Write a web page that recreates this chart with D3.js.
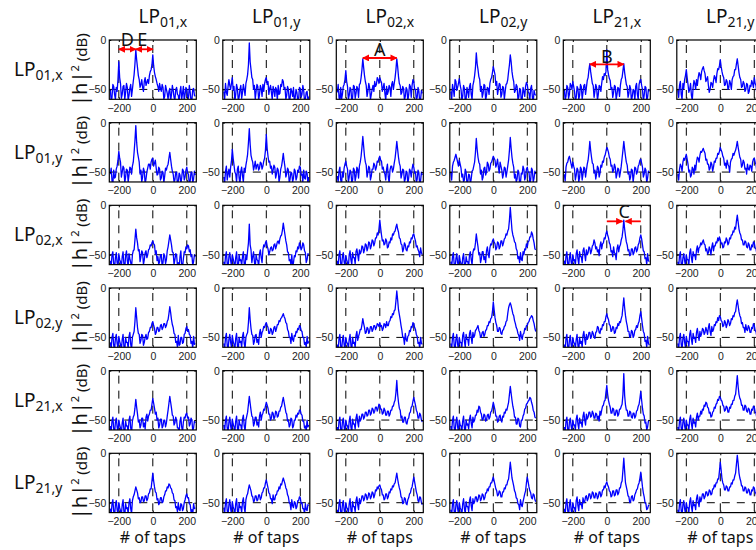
<!DOCTYPE html>
<html><head><meta charset="utf-8">
<script src="https://cdn.jsdelivr.net/npm/d3@7"></script>
<style>body{margin:0;background:#fff}svg{display:block}</style>
</head><body><svg id="chart" width="756" height="550"></svg>
<script>
// ---- data ----
const modes = ["01,x","01,y","02,x","02,y","21,x","21,y"];
const tapTicks = [-200, 0, 200];
const dbTicks = [0, -50];
const tapStart = -250, tapStep = 5;   // samples at -250,-245,...,250 (dB)

const p11=[-50,-62,-58,-45,-47,-55,-60,-48,-52,-40,-22,-38,-44,-59,-55,-47,-46,-60,-53,-44,-48,-61,-56,-49,-45,-57,-50,-42,-35,-24,-10,-20,-28,-36,-40,-48,-45,-40,-48,-52,-42,-38,-46,-43,-40,-44,-36,-32,-30,-25,-15,-26,-33,-37,-40,-44,-47,-52,-44,-49,-52,-45,-48,-60,-57,-46,-50,-54,-60,-52,-49,-62,-55,-46,-51,-58,-61,-50,-48,-55,-56,-63,-52,-47,-60,-54,-47,-61,-55,-48,-50,-58,-59,-46,-53,-62,-61,-50,-49,-56,-57];
const p12=[-52,-60,-44,-53,-56,-47,-40,-46,-50,-44,-38,-51,-47,-62,-55,-45,-49,-61,-58,-50,-46,-59,-53,-45,-50,-56,-44,-40,-35,-25,-3,-22,-30,-38,-40,-50,-46,-60,-52,-45,-47,-61,-55,-46,-49,-57,-45,-52,-44,-40,-38,-45,-42,-55,-49,-46,-53,-60,-47,-51,-57,-48,-50,-61,-46,-55,-54,-45,-47,-40,-42,-50,-48,-60,-56,-47,-50,-62,-59,-49,-52,-57,-48,-63,-58,-50,-53,-61,-60,-48,-49,-58,-55,-46,-51,-62,-60,-53,-52,-61,-57];
const p13=[-53,-45,-58,-62,-48,-60,-55,-47,-45,-40,-31,-42,-47,-60,-56,-48,-50,-62,-58,-46,-47,-59,-54,-47,-49,-58,-45,-44,-38,-30,-19,-28,-36,-42,-46,-57,-52,-44,-48,-60,-55,-50,-46,-52,-42,-47,-45,-38,-40,-44,-38,-41,-43,-52,-48,-44,-54,-61,-47,-55,-52,-46,-48,-57,-45,-42,-50,-44,-38,-30,-19,-27,-37,-44,-46,-55,-53,-47,-49,-61,-57,-48,-50,-62,-55,-45,-47,-58,-46,-40,-42,-50,-50,-61,-58,-48,-52,-63,-60,-51,-54];
const p14=[-52,-61,-45,-50,-57,-40,-42,-51,-48,-44,-39,-46,-50,-61,-57,-46,-49,-62,-60,-48,-52,-58,-47,-44,-55,-60,-46,-42,-36,-28,-13,-24,-30,-37,-40,-52,-47,-58,-54,-45,-46,-61,-56,-48,-49,-55,-44,-40,-38,-33,-27,-31,-35,-46,-42,-55,-50,-44,-45,-58,-55,-47,-48,-60,-52,-45,-44,-40,-32,-25,-15,-22,-32,-38,-42,-53,-51,-45,-47,-60,-58,-49,-50,-62,-60,-48,-52,-57,-47,-43,-45,-52,-54,-61,-49,-46,-58,-63,-51,-55,-56];
const p15=[-50,-61,-57,-46,-48,-59,-55,-44,-46,-50,-42,-47,-52,-62,-58,-47,-49,-60,-56,-45,-47,-60,-53,-46,-45,-55,-48,-41,-38,-30,-24,-32,-38,-44,-46,-58,-52,-45,-48,-61,-55,-46,-47,-52,-44,-37,-40,-34,-36,-32,-10,-30,-35,-39,-41,-50,-48,-58,-53,-46,-47,-60,-55,-48,-49,-57,-46,-40,-38,-31,-24,-33,-39,-45,-47,-58,-54,-46,-49,-62,-57,-50,-51,-61,-47,-44,-55,-60,-45,-41,-40,-46,-50,-62,-56,-47,-48,-61,-58,-50,-52];
const p16=[-51,-58,-46,-42,-55,-60,-44,-49,-40,-36,-30,-38,-45,-53,-50,-44,-56,-61,-48,-41,-44,-50,-40,-46,-38,-33,-35,-40,-32,-29,-27,-31,-34,-42,-40,-37,-46,-53,-50,-43,-44,-48,-41,-36,-38,-43,-34,-29,-30,-26,-20,-27,-32,-36,-38,-46,-45,-40,-42,-50,-48,-41,-44,-50,-40,-37,-36,-30,-30,-24,-19,-26,-33,-38,-40,-48,-47,-42,-44,-52,-50,-44,-45,-54,-52,-46,-47,-41,-44,-48,-38,-44,-46,-55,-51,-45,-48,-58,-55,-49,-50];
const p21=[-52,-46,-59,-62,-48,-56,-55,-47,-44,-38,-29,-36,-40,-55,-50,-44,-46,-61,-55,-47,-48,-60,-53,-45,-46,-52,-44,-40,-30,-18,-3,-20,-30,-35,-40,-52,-48,-60,-55,-46,-49,-62,-57,-50,-46,-42,-42,-47,-40,-37,-36,-44,-41,-38,-46,-53,-52,-45,-47,-58,-56,-49,-50,-61,-54,-46,-48,-44,-42,-36,-30,-37,-44,-49,-52,-60,-58,-50,-50,-63,-60,-51,-53,-62,-56,-47,-49,-58,-55,-48,-45,-51,-52,-63,-59,-50,-50,-61,-57,-49,-53];
const p22=[-55,-61,-49,-44,-58,-52,-47,-55,-45,-39,-27,-36,-43,-50,-52,-60,-47,-44,-56,-62,-49,-45,-54,-60,-46,-50,-43,-38,-32,-20,-6,-22,-33,-37,-40,-48,-44,-39,-47,-43,-42,-48,-46,-40,-41,-47,-44,-39,-36,-28,-12,-26,-34,-40,-39,-46,-44,-52,-48,-43,-45,-56,-52,-46,-48,-60,-55,-47,-44,-38,-31,-39,-45,-55,-52,-46,-48,-61,-57,-50,-51,-60,-56,-47,-49,-58,-55,-48,-50,-44,-45,-53,-52,-60,-48,-56,-57,-49,-51,-62,-55];
const p23=[-54,-60,-49,-45,-58,-62,-50,-55,-46,-42,-39,-44,-47,-60,-55,-48,-50,-61,-58,-46,-48,-59,-54,-45,-47,-56,-44,-40,-34,-25,-14,-24,-34,-40,-43,-55,-50,-44,-46,-58,-54,-47,-47,-41,-43,-48,-45,-39,-40,-36,-34,-38,-39,-47,-45,-50,-52,-58,-47,-42,-55,-61,-48,-44,-44,-50,-47,-41,-36,-28,-19,-27,-35,-41,-44,-56,-52,-47,-48,-60,-57,-49,-50,-62,-56,-47,-49,-55,-47,-42,-45,-51,-50,-61,-57,-48,-51,-63,-59,-50,-53];
const p24=[-50,-58,-44,-40,-38,-35,-32,-36,-40,-44,-38,-42,-46,-55,-52,-60,-58,-47,-50,-62,-60,-52,-53,-62,-57,-49,-48,-44,-40,-30,-16,-27,-35,-40,-42,-52,-48,-58,-55,-46,-45,-53,-50,-40,-42,-49,-47,-41,-40,-37,-34,-36,-38,-45,-42,-37,-45,-51,-40,-44,-48,-56,-52,-45,-46,-55,-50,-44,-38,-28,-15,-26,-35,-41,-45,-56,-52,-60,-57,-48,-50,-62,-60,-51,-52,-44,-47,-58,-55,-47,-45,-50,-50,-61,-58,-46,-48,-60,-56,-49,-52];
const p25=[-52,-59,-45,-41,-40,-36,-34,-38,-42,-46,-40,-44,-47,-58,-53,-46,-48,-60,-55,-45,-47,-58,-52,-45,-46,-55,-48,-42,-38,-30,-19,-28,-35,-41,-42,-51,-48,-57,-52,-44,-46,-55,-51,-43,-45,-39,-40,-35,-33,-29,-25,-27,-30,-35,-37,-44,-43,-50,-48,-42,-45,-56,-52,-46,-47,-55,-50,-44,-36,-28,-19,-27,-34,-40,-43,-52,-50,-58,-55,-47,-48,-60,-53,-45,-46,-52,-50,-44,-42,-38,-37,-41,-45,-55,-52,-46,-48,-61,-56,-49,-50];
const p26=[-52,-58,-47,-42,-44,-49,-40,-36,-38,-35,-32,-37,-42,-50,-48,-55,-53,-45,-47,-52,-43,-48,-40,-35,-36,-40,-33,-29,-30,-28,-26,-29,-31,-38,-37,-42,-42,-48,-46,-40,-42,-49,-45,-39,-40,-36,-36,-31,-32,-29,-25,-28,-30,-34,-36,-43,-41,-46,-38,-42,-44,-50,-40,-37,-36,-31,-33,-30,-28,-24,-19,-25,-30,-35,-37,-45,-43,-38,-40,-47,-46,-52,-42,-47,-48,-43,-44,-49,-40,-37,-36,-40,-42,-50,-47,-41,-44,-53,-50,-45,-46];
const p31=[-56,-62,-50,-47,-60,-64,-53,-48,-58,-62,-49,-55,-57,-63,-52,-47,-60,-64,-51,-46,-56,-62,-49,-54,-58,-63,-50,-46,-45,-35,-24,-33,-38,-46,-45,-57,-52,-46,-48,-60,-55,-48,-46,-53,-50,-45,-44,-40,-41,-38,-36,-39,-40,-49,-46,-56,-52,-60,-57,-50,-50,-62,-58,-49,-51,-59,-55,-46,-42,-36,-30,-35,-40,-47,-48,-60,-55,-49,-50,-61,-58,-64,-52,-46,-60,-63,-54,-47,-48,-42,-44,-40,-41,-47,-45,-52,-50,-61,-57,-50,-52];
const p32=[-57,-63,-51,-47,-59,-64,-52,-48,-56,-61,-50,-54,-58,-63,-53,-47,-60,-64,-50,-56,-55,-61,-52,-47,-59,-63,-50,-55,-46,-38,-19,-40,-45,-58,-52,-47,-57,-63,-50,-55,-56,-62,-49,-45,-53,-58,-45,-40,-42,-38,-36,-41,-44,-50,-47,-43,-42,-46,-45,-40,-39,-44,-41,-37,-36,-39,-34,-31,-30,-25,-18,-24,-30,-36,-40,-47,-48,-56,-55,-60,-50,-62,-58,-51,-52,-46,-47,-42,-44,-38,-40,-45,-43,-38,-40,-46,-48,-58,-55,-49,-50];
const p33=[-56,-62,-50,-46,-59,-63,-52,-48,-57,-62,-51,-55,-58,-63,-50,-46,-55,-60,-48,-53,-53,-59,-47,-44,-50,-56,-45,-49,-47,-41,-42,-48,-45,-39,-40,-46,-43,-37,-38,-44,-41,-35,-36,-41,-38,-33,-33,-28,-30,-24,-15,-23,-30,-36,-35,-40,-39,-34,-36,-43,-42,-37,-38,-33,-35,-29,-30,-27,-26,-22,-19,-24,-27,-33,-34,-39,-40,-47,-44,-38,-40,-45,-46,-41,-42,-37,-38,-33,-34,-30,-29,-33,-36,-42,-41,-45,-47,-52,-43,-48,-50];
const p34=[-57,-63,-52,-48,-60,-64,-54,-49,-58,-62,-51,-56,-59,-64,-53,-49,-60,-63,-52,-57,-57,-62,-50,-47,-55,-60,-48,-44,-45,-38,-29,-36,-42,-50,-48,-58,-54,-47,-47,-55,-52,-58,-46,-42,-49,-53,-43,-39,-40,-36,-34,-37,-39,-45,-43,-37,-38,-44,-42,-36,-36,-41,-38,-34,-33,-29,-30,-26,-24,-15,-2,-14,-25,-30,-33,-37,-38,-44,-46,-54,-52,-58,-48,-55,-56,-47,-50,-44,-45,-39,-42,-37,-36,-32,-32,-27,-29,-34,-38,-44,-45];
const p35=[-56,-62,-51,-47,-59,-63,-53,-48,-57,-62,-50,-56,-55,-61,-49,-45,-54,-60,-47,-52,-52,-58,-46,-43,-50,-56,-45,-50,-48,-42,-43,-49,-46,-41,-40,-35,-38,-44,-42,-47,-45,-51,-41,-37,-44,-39,-38,-33,-34,-29,-26,-30,-33,-38,-40,-47,-46,-52,-42,-48,-49,-55,-44,-40,-47,-42,-40,-35,-32,-25,-15,-24,-31,-37,-40,-46,-45,-51,-50,-44,-44,-50,-48,-43,-42,-47,-45,-40,-38,-33,-30,-34,-40,-46,-47,-54,-53,-60,-49,-56,-57];
const p36=[-57,-62,-51,-47,-59,-63,-53,-49,-56,-61,-50,-55,-55,-60,-48,-44,-53,-58,-47,-51,-50,-55,-45,-41,-48,-43,-42,-38,-40,-37,-35,-39,-40,-46,-44,-49,-48,-42,-45,-50,-42,-38,-46,-41,-41,-37,-38,-33,-36,-32,-35,-39,-38,-43,-42,-37,-38,-33,-35,-40,-38,-33,-34,-30,-30,-26,-27,-22,-24,-16,-10,-17,-24,-28,-30,-35,-35,-40,-40,-36,-37,-42,-43,-38,-40,-45,-45,-40,-42,-37,-38,-43,-44,-49,-48,-43,-45,-50,-52,-46,-48];
const p41=[-55,-62,-50,-46,-58,-63,-51,-47,-56,-61,-49,-54,-57,-63,-52,-47,-59,-64,-50,-55,-55,-61,-49,-45,-57,-62,-50,-47,-44,-34,-20,-30,-40,-46,-47,-56,-53,-47,-48,-58,-55,-50,-47,-52,-51,-45,-44,-40,-40,-36,-34,-38,-41,-47,-45,-40,-40,-44,-43,-38,-37,-42,-40,-36,-36,-40,-38,-34,-32,-26,-19,-25,-32,-37,-40,-46,-47,-55,-54,-60,-48,-58,-57,-50,-50,-56,-55,-47,-46,-41,-39,-44,-42,-47,-48,-56,-54,-61,-49,-57,-56];
const p42=[-56,-62,-50,-46,-58,-63,-52,-47,-55,-60,-48,-54,-57,-62,-51,-46,-58,-63,-50,-55,-54,-60,-49,-45,-56,-61,-50,-47,-45,-35,-20,-32,-41,-47,-48,-57,-54,-48,-47,-55,-52,-57,-46,-42,-50,-45,-43,-39,-40,-37,-35,-38,-40,-46,-46,-41,-42,-47,-45,-40,-39,-44,-41,-37,-37,-33,-34,-31,-30,-28,-26,-29,-31,-35,-36,-42,-44,-50,-50,-56,-46,-52,-54,-48,-49,-44,-45,-41,-42,-38,-39,-43,-44,-50,-50,-57,-55,-60,-49,-56,-54];
const p43=[-57,-63,-51,-47,-59,-64,-53,-48,-57,-62,-50,-55,-56,-61,-52,-47,-58,-63,-50,-56,-55,-60,-48,-44,-53,-49,-46,-42,-42,-37,-31,-36,-40,-46,-45,-40,-41,-46,-44,-39,-39,-44,-42,-38,-38,-42,-40,-36,-37,-39,-35,-39,-38,-43,-41,-36,-37,-40,-34,-38,-38,-34,-33,-29,-30,-26,-27,-23,-22,-13,-3,-12,-22,-27,-32,-38,-43,-50,-50,-57,-46,-52,-54,-49,-48,-43,-44,-39,-40,-35,-36,-40,-42,-47,-49,-56,-55,-61,-50,-56,-57];
const p44=[-56,-62,-50,-46,-58,-63,-52,-47,-57,-62,-50,-55,-55,-60,-48,-45,-54,-60,-47,-52,-52,-58,-46,-43,-50,-56,-45,-50,-48,-43,-42,-40,-38,-43,-45,-50,-49,-45,-44,-49,-47,-43,-42,-38,-38,-34,-35,-31,-30,-24,-14,-22,-30,-35,-38,-44,-44,-40,-41,-46,-47,-43,-42,-39,-38,-34,-33,-26,-20,-17,-15,-18,-22,-26,-28,-33,-36,-40,-42,-46,-48,-53,-44,-49,-52,-47,-46,-41,-42,-38,-38,-35,-34,-31,-30,-28,-29,-33,-36,-41,-44];
const p45=[-57,-63,-51,-47,-59,-64,-53,-48,-57,-62,-50,-55,-56,-61,-52,-47,-58,-63,-50,-56,-54,-60,-48,-44,-52,-57,-47,-52,-50,-45,-45,-51,-49,-44,-46,-50,-51,-45,-44,-39,-40,-45,-46,-41,-42,-37,-38,-34,-34,-29,-26,-30,-32,-37,-38,-44,-43,-39,-40,-46,-45,-40,-41,-36,-38,-34,-35,-31,-28,-19,-10,-20,-28,-34,-38,-44,-44,-50,-49,-43,-44,-50,-48,-43,-42,-38,-40,-36,-34,-28,-24,-31,-38,-44,-46,-54,-53,-60,-49,-56,-58];
const p46=[-56,-62,-50,-46,-57,-62,-51,-47,-55,-60,-49,-54,-54,-59,-47,-43,-52,-57,-46,-51,-50,-55,-45,-41,-48,-53,-44,-49,-46,-41,-42,-47,-45,-40,-43,-47,-40,-36,-44,-48,-39,-44,-42,-37,-38,-34,-35,-30,-33,-28,-29,-33,-34,-39,-38,-33,-35,-40,-37,-32,-34,-38,-36,-31,-32,-28,-29,-25,-24,-17,-12,-18,-24,-28,-30,-36,-35,-40,-40,-45,-37,-42,-43,-38,-40,-45,-45,-40,-41,-36,-38,-43,-44,-49,-48,-43,-45,-50,-51,-46,-47];
const p51=[-56,-62,-51,-47,-59,-64,-52,-48,-57,-62,-50,-55,-58,-63,-53,-48,-60,-64,-51,-56,-56,-62,-50,-46,-58,-63,-51,-47,-45,-38,-29,-37,-44,-52,-50,-58,-55,-48,-48,-57,-53,-59,-47,-44,-51,-46,-44,-40,-40,-34,-28,-33,-38,-44,-42,-50,-48,-58,-55,-49,-49,-58,-56,-50,-50,-57,-53,-46,-40,-33,-26,-32,-38,-45,-46,-55,-53,-47,-50,-58,-58,-63,-51,-47,-57,-62,-52,-47,-48,-44,-43,-48,-47,-56,-54,-48,-50,-61,-58,-51,-53];
const p52=[-55,-61,-50,-46,-58,-63,-52,-47,-56,-61,-49,-54,-57,-62,-51,-46,-58,-63,-50,-55,-55,-61,-49,-45,-56,-61,-50,-46,-42,-34,-26,-33,-40,-46,-47,-56,-53,-47,-47,-55,-52,-57,-46,-42,-50,-45,-43,-39,-40,-36,-32,-35,-38,-44,-44,-50,-48,-42,-43,-49,-47,-41,-42,-47,-46,-41,-41,-37,-36,-31,-27,-32,-37,-42,-44,-51,-50,-57,-55,-48,-49,-58,-56,-50,-50,-45,-47,-43,-44,-40,-40,-44,-45,-51,-51,-58,-56,-61,-50,-57,-55];
const p53=[-57,-63,-51,-47,-59,-64,-52,-48,-57,-62,-50,-55,-56,-61,-51,-46,-57,-62,-49,-54,-54,-59,-48,-44,-52,-57,-46,-51,-49,-44,-44,-49,-47,-42,-42,-46,-45,-40,-40,-45,-43,-38,-39,-43,-41,-37,-37,-41,-38,-34,-35,-39,-39,-44,-43,-38,-40,-45,-45,-41,-41,-46,-44,-40,-40,-36,-36,-32,-30,-22,-10,-24,-32,-38,-40,-48,-46,-52,-52,-47,-47,-53,-54,-49,-48,-43,-42,-37,-36,-31,-27,-31,-35,-40,-42,-48,-48,-43,-45,-50,-52];
const p54=[-56,-62,-50,-46,-58,-63,-52,-47,-57,-62,-50,-55,-56,-61,-51,-46,-58,-63,-50,-55,-54,-59,-49,-45,-53,-58,-47,-52,-50,-45,-45,-40,-42,-36,-37,-42,-44,-50,-49,-44,-45,-51,-50,-45,-44,-49,-47,-42,-41,-37,-32,-36,-40,-46,-46,-52,-51,-46,-45,-50,-52,-46,-47,-42,-43,-39,-40,-36,-32,-24,-16,-23,-30,-36,-40,-47,-47,-54,-54,-48,-49,-56,-57,-50,-50,-46,-44,-39,-38,-34,-33,-31,-30,-27,-28,-32,-35,-40,-42,-47,-48];
const p55=[-57,-63,-51,-47,-59,-64,-52,-48,-56,-61,-50,-55,-55,-60,-49,-45,-54,-59,-48,-53,-52,-57,-46,-42,-50,-55,-44,-49,-47,-42,-42,-47,-46,-41,-43,-48,-48,-43,-44,-49,-46,-51,-41,-45,-40,-36,-35,-31,-30,-22,-15,-24,-30,-34,-37,-43,-43,-38,-39,-45,-45,-40,-40,-46,-44,-39,-39,-36,-34,-24,-3,-25,-35,-40,-40,-46,-46,-41,-42,-47,-48,-43,-43,-48,-46,-41,-40,-36,-34,-28,-21,-30,-38,-44,-46,-53,-52,-60,-57,-51,-50];
const p56=[-57,-62,-51,-47,-58,-63,-52,-48,-56,-61,-50,-55,-55,-60,-49,-45,-54,-59,-48,-53,-52,-57,-47,-43,-50,-46,-46,-41,-44,-39,-40,-35,-36,-32,-33,-37,-38,-43,-42,-47,-46,-42,-41,-37,-38,-34,-33,-29,-30,-26,-27,-30,-31,-35,-36,-41,-40,-36,-37,-42,-42,-37,-38,-34,-34,-30,-30,-26,-24,-15,-5,-16,-24,-28,-30,-35,-35,-40,-40,-35,-36,-41,-42,-38,-39,-44,-44,-39,-40,-36,-37,-42,-43,-48,-47,-42,-44,-49,-50,-45,-46];
const p61=[-56,-62,-51,-47,-59,-64,-52,-48,-57,-62,-50,-55,-58,-63,-52,-47,-59,-64,-51,-56,-55,-61,-50,-46,-56,-61,-48,-44,-42,-38,-34,-37,-40,-46,-45,-50,-49,-44,-44,-49,-48,-43,-43,-48,-46,-41,-40,-36,-36,-28,-20,-28,-34,-39,-40,-47,-46,-52,-50,-45,-45,-50,-49,-44,-42,-38,-38,-34,-35,-31,-32,-35,-36,-40,-41,-47,-48,-55,-54,-59,-50,-57,-58,-51,-52,-58,-56,-50,-47,-43,-41,-45,-45,-51,-52,-59,-57,-62,-51,-56,-55];
const p62=[-55,-61,-50,-46,-58,-63,-52,-47,-56,-61,-49,-54,-57,-62,-51,-46,-58,-63,-50,-55,-54,-60,-49,-45,-55,-60,-47,-43,-41,-36,-32,-35,-38,-43,-44,-49,-48,-43,-43,-48,-47,-42,-42,-47,-45,-40,-39,-35,-35,-30,-27,-31,-35,-40,-41,-46,-46,-51,-42,-47,-47,-42,-42,-38,-38,-34,-36,-31,-32,-28,-25,-28,-31,-35,-37,-42,-44,-50,-51,-57,-47,-53,-55,-49,-50,-56,-54,-48,-48,-44,-45,-51,-50,-56,-56,-61,-51,-57,-58,-52,-53];
const p63=[-57,-63,-51,-47,-59,-64,-52,-48,-57,-62,-50,-55,-56,-61,-51,-46,-57,-62,-49,-54,-54,-59,-48,-44,-52,-57,-46,-51,-48,-43,-43,-48,-46,-41,-42,-47,-45,-40,-41,-46,-44,-39,-40,-45,-42,-37,-38,-34,-36,-33,-32,-35,-37,-42,-42,-47,-46,-41,-41,-46,-44,-39,-40,-36,-37,-33,-34,-31,-30,-25,-20,-26,-31,-35,-38,-44,-45,-51,-50,-45,-46,-51,-52,-47,-45,-41,-40,-36,-34,-29,-24,-29,-34,-39,-42,-48,-49,-44,-45,-50,-52];
const p64=[-57,-63,-51,-47,-59,-64,-52,-48,-56,-61,-50,-55,-57,-62,-51,-46,-56,-61,-49,-54,-54,-59,-48,-44,-53,-58,-46,-51,-49,-44,-44,-49,-47,-42,-43,-48,-46,-41,-42,-47,-45,-40,-40,-36,-38,-34,-34,-30,-30,-27,-24,-28,-32,-36,-38,-43,-42,-38,-39,-44,-44,-39,-39,-35,-36,-32,-32,-28,-26,-18,-9,-17,-25,-29,-33,-38,-40,-45,-46,-51,-52,-57,-47,-52,-54,-49,-45,-41,-38,-30,-24,-29,-34,-38,-40,-45,-46,-41,-42,-47,-49];
const p65=[-56,-62,-50,-46,-58,-63,-52,-47,-57,-62,-50,-55,-55,-60,-48,-44,-53,-58,-47,-52,-51,-56,-45,-50,-49,-44,-43,-48,-46,-41,-41,-46,-44,-39,-40,-45,-45,-40,-41,-46,-44,-39,-39,-44,-42,-37,-37,-33,-35,-31,-29,-32,-34,-38,-39,-44,-43,-38,-38,-43,-42,-37,-37,-42,-40,-35,-35,-30,-28,-17,-5,-18,-30,-34,-38,-43,-44,-50,-49,-44,-43,-48,-47,-42,-40,-37,-36,-32,-30,-25,-19,-26,-34,-40,-44,-50,-51,-57,-56,-53,-52];
const p66=[-57,-62,-51,-47,-58,-63,-52,-48,-56,-61,-50,-55,-55,-60,-49,-45,-54,-59,-48,-53,-52,-57,-46,-42,-49,-54,-44,-49,-46,-41,-41,-46,-44,-39,-39,-43,-42,-37,-38,-42,-41,-36,-36,-32,-34,-30,-30,-26,-26,-18,-9,-17,-26,-30,-32,-37,-37,-33,-34,-38,-38,-34,-34,-30,-31,-27,-27,-23,-20,-11,-2,-10,-20,-25,-28,-33,-33,-38,-38,-34,-35,-40,-40,-36,-37,-42,-42,-37,-38,-34,-35,-40,-40,-45,-45,-40,-42,-47,-48,-43,-44];

const panels = [
  [p11,p12,p13,p14,p15,p16],
  [p21,p22,p23,p24,p25,p26],
  [p31,p32,p33,p34,p35,p36],
  [p41,p42,p43,p44,p45,p46],
  [p51,p52,p53,p54,p55,p56],
  [p61,p62,p63,p64,p65,p66]
];

// annotation arrows
const arrowRows = [0,0,0,0,2,2];
const arrowCols = [0,0,2,4,4,4];
const arrowFrom = [-200,-100,-100,-100,0,200];
const arrowTo   = [-100,0,100,100,92,110];
const arrowDb   = [-9.4,-9.4,-18.2,-24.6,-16.2,-16.2];
const arrowBoth = [true,true,true,true,false,false];
// annotation letters
const letters   = ["D","E","A","B","C"];
const letterRow = [0,0,0,0,2];
const letterCol = [0,0,2,4,4];
const letterTap = [-150,-62,0,0,102];
const letterDb  = [-5,-5,-15,-22.5,-12];

// ---- layout ----
const svg = d3.select("#chart");
const PW = 87, PH = 59.3;
const colLeft = d3.scaleLinear().domain([0,1]).range([109.3, 222.8]);
const rowTop  = d3.scaleLinear().domain([0,1]).range([40, 122.66]);
const x = d3.scaleLinear().domain([-256, 256]).range([0, PW]);
const y = d3.scaleLinear().domain([-60, 0]).range([PH, 0]);
const line = d3.line().x((d,i)=>x(tapStart + i*tapStep)).y(d=>y(d));
const tickFont = "'Liberation Sans', Arial, sans-serif";
const labFont = "'Noto Sans', 'Open Sans', sans-serif";

const defs = svg.append("defs");
defs.append("marker").attr("id","ah").attr("viewBox","0 0 10 10")
  .attr("refX",9).attr("refY",5).attr("markerUnits","userSpaceOnUse")
  .attr("markerWidth",7).attr("markerHeight",7).attr("orient","auto-start-reverse")
  .append("path").attr("d","M0,0L10,5L0,10z").attr("fill","#ff0000");

panels.forEach((row, r) => {
  row.forEach((vals, c) => {
    const g = svg.append("g").attr("transform", `translate(${colLeft(c)},${rowTop(r)})`);
    defs.append("clipPath").attr("id", `cl${r}${c}`).append("rect").attr("width", PW).attr("height", PH);
    g.selectAll("line.vd").data(tapTicks).join("line").attr("class","vd")
      .attr("x1", d=>x(d)).attr("x2", d=>x(d)).attr("y1", y(0)).attr("y2", y(-60))
      .attr("stroke","#000").attr("stroke-width",1)
      .attr("stroke-dasharray","8,7").attr("stroke-dashoffset",10);
    g.append("line").attr("x1",0).attr("x2",PW).attr("y1",y(-50)).attr("y2",y(-50))
      .attr("stroke","#000").attr("stroke-width",1).attr("stroke-dasharray","8,7");
    g.append("path").datum(vals).attr("d", line).attr("clip-path", `url(#cl${r}${c})`)
      .attr("fill","none").attr("stroke","#0000ff").attr("stroke-width",1.3)
      .attr("stroke-linejoin","round");
    const ax = g.append("g").attr("transform", `translate(0,${PH})`)
      .call(d3.axisBottom(x).tickValues(tapTicks).tickSizeInner(-2).tickSizeOuter(0).tickPadding(5));
    const ay = g.append("g")
      .call(d3.axisLeft(y).tickValues(dbTicks).tickSizeInner(-2).tickSizeOuter(0).tickPadding(3));
    const axT = g.append("g").call(d3.axisTop(x).tickValues(tapTicks).tickSizeInner(-2).tickSizeOuter(0).tickFormat(""));
    const ayR = g.append("g").attr("transform", `translate(${PW},0)`)
      .call(d3.axisRight(y).tickValues(dbTicks).tickSizeInner(-2).tickSizeOuter(0).tickFormat(""));
    [ax, ay, axT, ayR].forEach(a => {
      a.select(".domain").remove();
      a.selectAll("text").attr("font-family", tickFont).attr("font-size", 10.5).attr("fill","#222");
      a.selectAll("line").attr("stroke","#000");
    });
    g.append("rect").attr("width", PW).attr("height", PH).attr("fill","none")
      .attr("stroke","#000").attr("stroke-width",1.2);
  });
});

// column titles
modes.forEach((m, c) => {
  const t = svg.append("text").attr("x", colLeft(c) + PW/2 + 10).attr("y", 22.5)
    .attr("text-anchor","middle").attr("font-family", labFont).attr("fill","#111");
  t.append("tspan").attr("font-size", 19).text("LP");
  t.append("tspan").attr("font-size", 14).attr("dy", 4).text(m);
});
// row labels + y labels
modes.forEach((m, r) => {
  const cy = rowTop(r) + PH/2;
  const t = svg.append("text").attr("x", 14).attr("y", cy + 6.5)
    .attr("font-family", labFont).attr("fill","#111");
  t.append("tspan").attr("font-size", 19).text("LP");
  t.append("tspan").attr("font-size", 14).attr("dy", 4).text(m);
  const yl = svg.append("text").attr("transform", `translate(87,${cy}) rotate(-90)`)
    .attr("text-anchor","middle").attr("font-family", labFont).attr("fill","#111");
  yl.append("tspan").attr("font-size", 20).text("|h|");
  yl.append("tspan").attr("font-size", 11).attr("dy", -8).text("2");
  yl.append("tspan").attr("font-size", 15).attr("dy", 8).text(" (dB)");
});
// x labels
modes.forEach((m, c) => {
  svg.append("text").attr("x", colLeft(c) + PW/2).attr("y", 543)
    .attr("text-anchor","middle").attr("font-family", labFont).attr("font-size", 16)
    .attr("fill","#111").text("# of taps");
});
// arrows
arrowRows.forEach((r, i) => {
  const c = arrowCols[i];
  svg.append("line")
    .attr("x1", colLeft(c) + x(arrowFrom[i])).attr("x2", colLeft(c) + x(arrowTo[i]))
    .attr("y1", rowTop(r) + y(arrowDb[i])).attr("y2", rowTop(r) + y(arrowDb[i]))
    .attr("stroke","#ff0000").attr("stroke-width",1.8)
    .attr("marker-end","url(#ah)")
    .attr("marker-start", arrowBoth[i] ? "url(#ah)" : null);
});
letters.forEach((L, i) => {
  svg.append("text").attr("x", colLeft(letterCol[i]) + x(letterTap[i]))
    .attr("y", rowTop(letterRow[i]) + y(letterDb[i]) + 1)
    .attr("text-anchor","middle").attr("font-family", labFont).attr("font-size", 18)
    .attr("fill","#111").text(L);
});
</script></body></html>
